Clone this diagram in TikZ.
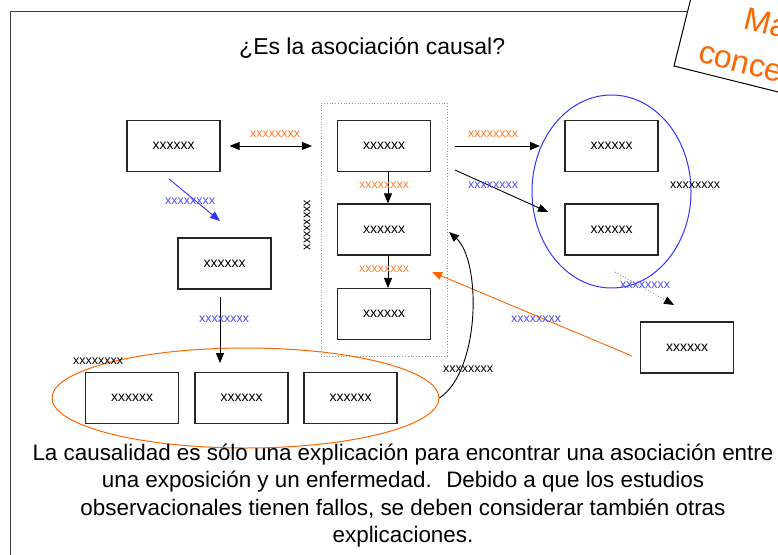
\documentclass[tikz,border=0pt]{standalone}
\usepackage{fontspec}
\setmainfont{Liberation Sans}
\usetikzlibrary{arrows.meta,calc,shapes.geometric}
\definecolor{orgline}{RGB}{255,102,0}
\definecolor{orglbl}{RGB}{255,128,48}
\definecolor{bluelbl}{RGB}{77,77,255}
\definecolor{blueline}{RGB}{51,51,255}
\definecolor{framegray}{RGB}{60,60,60}
\begin{document}
\begin{tikzpicture}[x=1pt,y=-1pt,
  box/.style={draw=black!85, line width=1.1pt, minimum width=93pt, minimum height=51pt, inner sep=0pt, font=\fontsize{14}{16}\selectfont, fill=white},
  lbl/.style={font=\fontsize{12.5}{14}\selectfont, inner sep=0pt},
  tip/.style={-{Triangle[length=10pt,width=8pt]}},
  arr/.style={tip, line width=0.9pt},
  para/.style={anchor=base, font=\fontsize{22.4}{27}\selectfont, inner sep=0pt},
]
\useasboundingbox (0,0) rectangle (778,554);
\clip (0,0) rectangle (778,554);
\draw[framegray, line width=1pt] (10,600) -- (10,11) -- (800,11);

% rotated corner box
\begin{scope}[shift={(674,66)}, rotate=-14]
  \draw[fill=white, line width=1pt] (0,0) rectangle (250,-160);
\end{scope}
\node[anchor=base, rotate=-14, text=orgline, font=\fontsize{32}{36}\selectfont, inner sep=0pt] (mapa1) at (781.8,37.7) {Mapa};
\node[anchor=base, rotate=-14, text=orgline, font=\fontsize{32}{36}\selectfont, inner sep=0pt] (mapa2) at (772.1,80.7) {conceptual};

% title
\node[anchor=base west, font=\fontsize{23}{27}\selectfont, inner sep=0pt] (title) at (239,54) {¿Es la asociación causal?};

% groups
\node[draw=gray!80, dotted, line width=0.8pt, minimum width=126pt, minimum height=253pt, inner sep=0pt] (grpC) at (384,229.5) {};
\node[ellipse, draw=blueline, line width=1pt, minimum width=159pt, minimum height=193pt, inner sep=0pt] (grpB) at (611.5,191.5) {};
\node[ellipse, draw=orgline, line width=1pt, minimum width=387pt, minimum height=100pt, inner sep=0pt] (grpO) at (245.5,398) {};

% boxes
\node[box] (A) at (173.5,146) {xxxxxx};
\node[box] (B1) at (384,146) {xxxxxx};
\node[box] (B2) at (384,229.5) {xxxxxx};
\node[box] (B3) at (384,314) {xxxxxx};
\node[box] (C1) at (611.5,146) {xxxxxx};
\node[box] (C2) at (611.5,229.5) {xxxxxx};
\node[box] (D) at (687,347.5) {xxxxxx};
\node[box] (E) at (224.5,263.5) {xxxxxx};
\node[box] (F1) at (132,398) {xxxxxx};
\node[box] (F2) at (241.5,398) {xxxxxx};
\node[box] (F3) at (350.5,398) {xxxxxx};

% free arrow ends
\coordinate (bs) at (169,179);
\coordinate (be) at (220,221);
\coordinate (es) at (220,297);
\coordinate (ee) at (220,363);
\coordinate (r1s) at (455,146);
\coordinate (r1e) at (540,146);
\coordinate (r2s) at (455,170);
\coordinate (r2e) at (548,212);
\coordinate (gs) at (615,272);
\coordinate (ge) at (674,305);
\coordinate (os) at (632,356);
\coordinate (oe) at (432,272);
\coordinate (ce) at (449,232);

% connectors
\draw[{Triangle[length=10pt,width=8pt]}-{Triangle[length=10pt,width=8pt]}, line width=0.9pt, shorten <=9pt, shorten >=25pt] (A.east) -- (B1.west);
\draw[arr, blueline] (bs) -- (be);
\draw[arr] (es) -- (ee);
\draw[arr] ($(B1.south)+(4,0)$) -- ($(B2.north)+(4,0)$);
\draw[arr] ($(B2.south)+(4,0)$) -- ($(B3.north)+(4,0)$);
\draw[arr] (r1s) -- (r1e);
\draw[arr] (r2s) -- (r2e);
\draw[-{Triangle[length=10pt,width=8pt,color=black]}, gray, dotted, line width=0.9pt] (gs) -- (ge);
\draw[arr, orgline] (os) -- (oe);
\draw[arr] (grpO.east) .. controls (481,370) and (481,260) .. (ce);

% labels
\node[lbl, text=orglbl] (l1) at (275,134) {xxxxxxxx};
\node[lbl, text=bluelbl] (l2) at (190,201) {xxxxxxxx};
\node[lbl, text=orglbl] (l3) at (384,185) {xxxxxxxx};
\node[lbl, text=orglbl] (l4) at (384,269) {xxxxxxxx};
\node[lbl, rotate=90] (l5) at (307,225) {xxxxxxxx};
\node[lbl, text=orglbl] (l6) at (493,134) {xxxxxxxx};
\node[lbl, text=bluelbl] (l7) at (493,185) {xxxxxxxx};
\node[lbl] (l8) at (695,185) {xxxxxxxx};
\node[lbl, text=bluelbl] (l9) at (645,285) {xxxxxxxx};
\node[lbl, text=bluelbl] (l10) at (536,319) {xxxxxxxx};
\node[lbl] (l11) at (468,369) {xxxxxxxx};
\node[lbl, text=bluelbl] (l12) at (224,319) {xxxxxxxx};
\node[lbl] (l13) at (98,361) {xxxxxxxx};

% paragraph
\node[para] (p1) at (403,460) {La causalidad es sólo una explicación para encontrar una asociación entre};
\node[para] (p2) at (403,487.5) {una exposición y un enfermedad.~ Debido a que los estudios};
\node[para] (p3) at (403,515) {observacionales tienen fallos, se deben considerar también otras};
\node[para] (p4) at (403,542.5) {explicaciones.};
\end{tikzpicture}
\end{document}
